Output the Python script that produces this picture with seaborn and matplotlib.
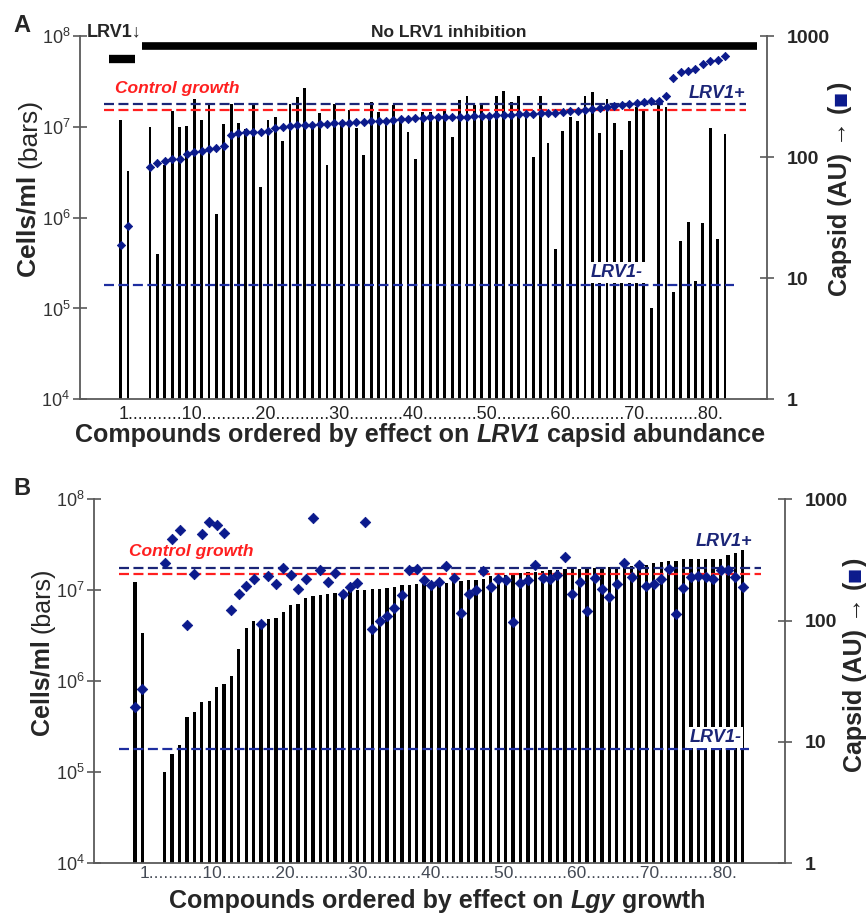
import numpy as np
import pandas as pd
import matplotlib
matplotlib.use("Agg")
import matplotlib.pyplot as plt
import matplotlib.transforms as mtrans
from matplotlib.ticker import NullLocator, FixedLocator, FuncFormatter, LogFormatterSciNotation
import seaborn as sns

# ---------------- data ----------------
compounds = [1, 2] + list(range(5, 84))

cells_a = [1.19e7, 3.3e6,
           1.0e7, 4.0e5, 3.8e6, 1.5e7, 1.0e7, 1.02e7, 2.05e7, 1.2e7, 1.8e7, 1.1e6,
           1.07e7, 1.8e7, 1.1e7, 9.5e6, 1.8e7, 2.2e6, 1.2e7, 1.27e7, 6.9e6, 1.8e7,
           2.15e7, 2.65e7, 1.05e7, 1.43e7, 3.8e6, 1.8e7, 1.15e7, 1.53e7, 9.6e6, 4.9e6,
           1.9e7, 1.47e7, 1.23e7, 1.74e7, 1.23e7, 8.8e6, 4.4e6, 1.47e7, 1.47e7, 1.35e7,
           1.53e7, 7.8e6, 1.97e7, 2.2e7, 1.74e7, 1.8e7, 1.4e7, 2.2e7, 2.5e7, 1.9e7,
           2.2e7, 1.53e7, 4.7e6, 2.2e7, 6.7e6, 4.5e5, 9.1e6, 1.27e7, 1.15e7, 2.2e7,
           2.4e7, 8.6e6, 2.05e7, 1.1e7, 5.6e6, 1.17e7, 1.66e7, 1.53e7, 1.0e5, 1.74e7,
           1.66e7, 1.5e5, 5.6e5, 9.0e5, 2.0e5, 8.7e5, 9.6e6, 5.8e5, 8.3e6]

capsid_a = [18.8, 27,
            83, 89, 92, 96, 97, 106, 110, 113, 116, 118,
            123, 152, 158, 162, 162, 162, 165, 175, 178, 181,
            184, 184, 184, 186, 187, 190, 190, 192, 196, 196,
            199, 199, 200, 202, 205, 208, 210, 212, 213, 214,
            214, 215, 215, 216, 217, 218, 220, 221, 222, 224,
            225, 227, 228, 230, 231, 232, 235, 238, 241, 245,
            250, 253, 258, 264, 268, 275, 280, 285, 290, 292,
            320, 450, 500, 512, 536, 585, 619, 637, 690]

cells_b = [1.24e7, 3.4e6,
           1.0e5, 1.58e5, 2.0e5, 4.1e5, 4.6e5, 5.9e5, 6.0e5, 8.7e5, 9.3e5, 1.15e6,
           2.24e6, 3.9e6, 4.6e6, 4.6e6, 4.8e6, 5.0e6, 5.8e6, 6.9e6, 7.0e6, 8.2e6,
           8.65e6, 8.9e6, 9.2e6, 9.4e6, 9.5e6, 9.9e6, 1.0e7, 1.0e7, 1.03e7, 1.03e7,
           1.05e7, 1.1e7, 1.13e7, 1.15e7, 1.16e7, 1.17e7, 1.2e7, 1.2e7, 1.21e7, 1.27e7,
           1.28e7, 1.3e7, 1.31e7, 1.34e7, 1.44e7, 1.44e7, 1.47e7, 1.5e7, 1.54e7, 1.57e7,
           1.6e7, 1.63e7, 1.67e7, 1.67e7, 1.7e7, 1.7e7, 1.73e7, 1.73e7, 1.75e7, 1.78e7,
           1.79e7, 1.79e7, 1.82e7, 1.85e7, 1.9e7, 1.9e7, 2.0e7, 2.07e7, 2.1e7, 2.1e7,
           2.2e7, 2.22e7, 2.22e7, 2.22e7, 2.22e7, 2.22e7, 2.44e7, 2.6e7, 2.77e7]

capsid_b = [19.3, 27.4,
            297, 468, 558, 92, 241, 518, 653, 614, 525, 122,
            165, 193, 219, 93, 233, 200, 270, 238, 182, 219,
            697, 261, 209, 246, 166, 190, 203, 646, 85, 100,
            110, 127, 162, 261, 266, 216, 197, 207, 282, 224,
            115, 165, 178, 257, 190, 219, 216, 98, 206, 216,
            288, 224, 219, 238, 332, 166, 209, 120, 224, 182,
            157, 200, 301, 228, 288, 193, 200, 219, 265, 113,
            187, 230, 232, 228, 220, 260, 260, 228, 190]

# reference levels
control_growth = [1.53e7, 1.5e7]      # cells/ml (left axis)
lrv1_pos = [275, 273]                 # capsid AU (right axis)
lrv1_neg = [8.8, 8.75]                # capsid AU (right axis)

tick_numbers = ["1", "10", "20", "30", "40", "50", "60", "70", "80"]
left_ticks = [1e4, 1e5, 1e6, 1e7, 1e8]
right_ticks = [1, 10, 100, 1000]

# ---------------- style ----------------
sns.set_theme(style="white")
plt.rcParams["font.family"] = ["Liberation Sans", "DejaVu Sans"]
plt.rcParams["mathtext.fontset"] = "custom"
plt.rcParams["mathtext.rm"] = "Liberation Sans"
plt.rcParams["mathtext.it"] = "Liberation Sans:italic"
plt.rcParams["mathtext.bf"] = "Liberation Sans:bold"

NAVY = "#0b1a8c"
NAVY_LINE = "#1b2577"
NAVY_LINE2 = "#1e2ea0"
RED = "#ff1f1f"
SPINE = "#5a5a5a"

W, H = 866, 916
fig = plt.figure(figsize=(W / 100, H / 100), dpi=100)
fig.patch.set_facecolor("white")


def px_axes(x0, y_top, x1, y_bot):
    return fig.add_axes([x0 / W, 1 - y_bot / H, (x1 - x0) / W, (y_bot - y_top) / H])


def rich_text(x_img, y_img, pieces, vertical=False, center=False):
    r = fig.canvas.get_renderer()

    def ext(t, kw):
        tt = fig.text(0, 0, t, **kw)
        bb = tt.get_window_extent(r)
        tt.remove()
        return bb.width

    advs = [ext("|" + s + "|", kw) - ext("||", kw) for s, kw in pieces]
    if vertical:
        pos = H - y_img
        if center:
            pos -= sum(advs) / 2
        for (s, kw), a in zip(pieces, advs):
            fig.text(x_img / W, pos / H, s, rotation=90, rotation_mode="anchor",
                     ha="left", va="baseline", **kw)
            pos += a
    else:
        pos = x_img
        if center:
            pos -= sum(advs) / 2
        for (s, kw), a in zip(pieces, advs):
            fig.text(pos / W, 1 - y_img / H, s, ha="left", va="baseline", **kw)
            pos += a


def build_panel(ax, cells, capsid, bar_w, ms):
    df = pd.DataFrame({"compound": compounds, "cells": cells, "capsid": capsid})
    ax.set_yscale("log")
    sns.barplot(data=df, x="compound", y="cells", native_scale=True, color="black",
                saturation=1, width=bar_w, errorbar=None, ax=ax, zorder=2,
                edgecolor="black", linewidth=0)
    ax.set_ylim(1e4, 1e8)
    ax.set_xlim(-4.5, 88.7)
    ax.set_xticks([])
    ax.set_xlabel("")
    ax.set_ylabel("")
    ax.yaxis.set_major_locator(FixedLocator(left_ticks))
    ax.yaxis.set_major_formatter(LogFormatterSciNotation())
    ax.yaxis.set_minor_locator(NullLocator())
    ax.tick_params(axis="y", direction="inout", length=10, width=1.2, color=SPINE,
                   labelsize=13, labelcolor="#333333", pad=2)
    for s in ["top", "right"]:
        ax.spines[s].set_visible(False)
    for s in ["left", "bottom"]:
        ax.spines[s].set_color(SPINE)
        ax.spines[s].set_linewidth(1.3)

    ax2 = ax.twinx()
    ax2.set_yscale("log")
    sns.scatterplot(data=df, x="compound", y="capsid", marker="D", s=ms ** 2,
                    color=NAVY, edgecolor=NAVY, linewidth=0.6, ax=ax2, zorder=4)
    ax2.set_ylim(1, 1000)
    ax2.set_xlim(-4.5, 88.7)
    ax2.set_ylabel("")
    ax2.set_xlabel("")
    ax2.yaxis.set_major_locator(FixedLocator(right_ticks))
    ax2.yaxis.set_major_formatter(FuncFormatter(lambda v, p: f"{int(round(v))}"))
    ax2.yaxis.set_minor_locator(NullLocator())
    ax2.tick_params(axis="y", direction="inout", length=10, width=1.2, color=SPINE,
                    labelsize=14, pad=9)
    for lab in ax2.get_yticklabels():
        lab.set_fontweight("bold")
    for s in ["top", "left", "bottom"]:
        ax2.spines[s].set_visible(False)
    ax2.spines["right"].set_color(SPINE)
    ax2.spines["right"].set_linewidth(1.3)
    ax2.grid(False)
    ax.grid(False)
    return ax2


DASH = (0, (4.5, 2))

# ---------------- panel A ----------------
axA = px_axes(80, 36, 767, 399.3)
axA2 = build_panel(axA, cells_a, capsid_a, 0.38, 4.2)
axA.hlines(control_growth[0], -1.2, 85.8, colors=RED, linestyles=DASH, lw=1.6, zorder=3)
axA2.hlines(lrv1_pos[0], -1.2, 85.8, colors=NAVY_LINE, linestyles=DASH, lw=1.6, zorder=3)
axA2.hlines(lrv1_neg[0], -1.2, 84.2, colors=NAVY_LINE2, linestyles=DASH, lw=1.6, zorder=3)

tA = mtrans.blended_transform_factory(axA.transData, axA.transAxes)
tA2 = mtrans.blended_transform_factory(axA2.transData, axA2.transAxes)
axA.plot([-0.5, 2.9], [0.9367, 0.9367], color="black", lw=6, solid_capstyle="butt",
         transform=tA, clip_on=False)
axA.plot([3.85, 87.3], [0.9725, 0.9725], color="black", lw=5.5, solid_capstyle="butt",
         transform=tA, clip_on=False)
axA.text(-3.6, 1.0, "LRV1\u2193", transform=tA, fontsize=13, fontweight="bold",
         ha="left", va="baseline", clip_on=False)
axA.text(45.5, 0.998, "No LRV1 inhibition", transform=tA, fontsize=12.5, fontweight="bold",
         ha="center", va="baseline", clip_on=False)
axA.text(0.2, 0.843, "Control growth", transform=tA, fontsize=12.5, fontweight="bold",
         fontstyle="italic", color=RED, ha="left", va="baseline", zorder=5)
axA2.text(85.8, 0.829, "LRV1+", transform=tA2, fontsize=13, fontweight="bold",
          fontstyle="italic", color=NAVY_LINE, ha="right", va="baseline")
axA2.text(71.8, 0.337, "LRV1-", transform=tA2, fontsize=13, fontweight="bold",
          fontstyle="italic", color=NAVY_LINE, ha="right", va="baseline",
          bbox=dict(facecolor="white", edgecolor="none", pad=1.5))

dotsA = "...........".join(tick_numbers) + "."
axA.text(41.8, -0.053, dotsA, transform=tA, fontsize=13, color="#222222",
         ha="center", va="baseline", clip_on=False)

# ---------------- panel B ----------------
axB = px_axes(94.3, 499.3, 785, 863.3)
axB2 = build_panel(axB, cells_b, capsid_b, 0.45, 5.3)
axB.hlines(control_growth[1], -1.2, 85.5, colors=RED, linestyles=DASH, lw=1.6, zorder=3)
axB2.hlines(lrv1_pos[1], -1.2, 85.5, colors=NAVY_LINE, linestyles=DASH, lw=1.6, zorder=3)
axB2.hlines(lrv1_neg[1], -1.2, 83.9, colors=NAVY_LINE2, linestyles=DASH, lw=1.6, zorder=3)

tB = mtrans.blended_transform_factory(axB.transData, axB.transAxes)
tB2 = mtrans.blended_transform_factory(axB2.transData, axB2.transAxes)
axB.text(0.15, 0.844, "Control growth", transform=tB, fontsize=12.5, fontweight="bold",
         fontstyle="italic", color=RED, ha="left", va="baseline", zorder=5)
axB2.text(84.3, 0.872, "LRV1+", transform=tB2, fontsize=13, fontweight="bold",
          fontstyle="italic", color=NAVY_LINE, ha="right", va="baseline")
axB2.text(82.8, 0.333, "LRV1-", transform=tB2, fontsize=13, fontweight="bold",
          fontstyle="italic", color=NAVY_LINE, ha="right", va="baseline",
          bbox=dict(facecolor="white", edgecolor="none", pad=1.5))

dotsB = "...........".join(tick_numbers) + "."
axB.text(42.0, -0.04, dotsB, transform=tB, fontsize=12.5, color="#444a55",
         ha="center", va="baseline", clip_on=False)

# ---------------- labels ----------------
fig.text(13 / W, 1 - 32 / H, "A", fontsize=17, fontweight="bold")
fig.text(13 / W, 1 - 495 / H, "B", fontsize=17, fontweight="bold")

bold18 = dict(fontsize=18, fontweight="bold")
bi18 = dict(fontsize=18, fontweight="bold", fontstyle="italic")

rich_text(420, 442, [("Compounds ordered by effect on ", bold18), ("LRV1", bi18),
                     (" capsid abundance", bold18)], center=True)
rich_text(437, 908, [("Compounds ordered by effect on ", bold18), ("Lgy", bi18),
                     (" growth", bold18)], center=True)

rich_text(36, 188, [("Cells/ml ", dict(fontsize=19, fontweight="bold")),
                    ("(bars)", dict(fontsize=19))], vertical=True, center=True)
rich_text(50, 652, [("Cells/ml ", dict(fontsize=18, fontweight="bold")),
                    ("(bars)", dict(fontsize=18))], vertical=True, center=True)

cap_pieces = lambda fs: [("Capsid (AU) \u2192 (", dict(fontsize=fs, fontweight="bold")),
                         ("\u25A0", dict(fontsize=fs, fontweight="bold", color=NAVY)),
                         (")", dict(fontsize=fs, fontweight="bold"))]
rich_text(847, 189, cap_pieces(18), vertical=True, center=True)
rich_text(862, 665, cap_pieces(18), vertical=True, center=True)

fig.savefig("out.png", dpi=100, facecolor="white")
